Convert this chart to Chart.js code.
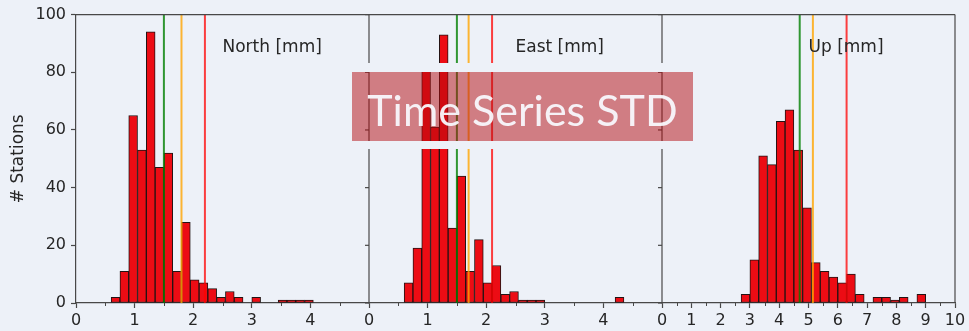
<!DOCTYPE html>
<html>
<head>
<meta charset="utf-8">
<script src="https://cdn.jsdelivr.net/npm/chart.js@4.4.1/dist/chart.umd.min.js"></script>
<style>
  html, body { margin: 0; background: #edf1f8; }
  canvas { display: block; }
</style>
</head>
<body>
<canvas id="grafico" width="969" height="331"></canvas>
<script>
// left edges of the histogram bins and station counts, one set per component
const northEdges = [0.6, 0.75, 0.9, 1.05, 1.2, 1.35, 1.5, 1.65, 1.8, 1.95, 2.1, 2.25, 2.4, 2.55, 2.7, 2.85, 3.0, 3.15, 3.3, 3.45, 3.6, 3.75, 3.9];
const northCounts = [2, 11, 65, 53, 94, 47, 52, 11, 28, 8, 7, 5, 2, 4, 2, 0, 2, 0, 0, 1, 1, 1, 1];
const eastEdges = [0.6, 0.75, 0.9, 1.05, 1.2, 1.35, 1.5, 1.65, 1.8, 1.95, 2.1, 2.25, 2.4, 2.55, 2.7, 2.85, 3.0, 3.15, 3.3, 3.45, 3.6, 3.75, 3.9, 4.05, 4.2];
const eastCounts = [7, 19, 82, 61, 93, 26, 44, 11, 22, 7, 13, 3, 4, 1, 1, 1, 0, 0, 0, 0, 0, 0, 0, 0, 2];
const upEdges = [2.7, 3.0, 3.3, 3.6, 3.9, 4.2, 4.5, 4.8, 5.1, 5.4, 5.7, 6.0, 6.3, 6.6, 6.9, 7.2, 7.5, 7.8, 8.1, 8.4, 8.7];
const upCounts = [3, 15, 51, 48, 63, 67, 53, 33, 14, 11, 9, 7, 10, 3, 0, 2, 2, 1, 2, 0, 3];
const binWidths = [0.15, 0.15, 0.3];

// reference lines (green, orange, red) per component
const northLines = [1.5, 1.8, 2.2];
const eastLines = [1.5, 1.7, 2.1];
const upLines = [4.7, 5.15, 6.3];
const lineColors = ['rgba(0,128,0,0.8)', 'rgba(255,165,0,0.8)', 'rgba(255,0,0,0.75)'];

const panelTitles = ['North [mm]', 'East [mm]', 'Up [mm]'];
const xMax = [5, 5, 10];
const titulo = 'Time Series STD';

const fondo = '#edf1f8';
const ejeColor = '#484848';
const textoColor = '#262626';
const fuente = 'DejaVu Sans';

const edges = [northEdges, eastEdges, upEdges];
const counts = [northCounts, eastCounts, upCounts];
const lines = [northLines, eastLines, upLines];
const ids = ['xN', 'xE', 'xU'];

function xScale(k) {
  return {
    type: 'linear',
    axis: 'x',
    position: 'bottom',
    stack: 'paneles',
    min: 0,
    max: xMax[k],
    offset: false,
    afterBuildTicks: (s) => {
      if (k < 2) s.ticks = s.ticks.filter(t => t.value < 5);
    },
    afterFit: (s) => { s.height = 28; },
    ticks: {
      stepSize: 1,
      autoSkip: false,
      maxRotation: 0,
      padding: 3,
      color: textoColor,
      font: { family: fuente, size: 16 },
    },
    grid: { offset: false, drawOnChartArea: false, drawTicks: true, tickLength: 5, tickColor: ejeColor, tickWidth: 1.2 },
    border: { display: true, color: ejeColor, width: 1.2 },
  };
}

// ancho de barra = ancho del bin en pixeles de su propia escala
function anchoBin(k) {
  return (c) => {
    const s = c.chart.scales[ids[k]];
    return s.getPixelForValue(binWidths[k]) - s.getPixelForValue(0);
  };
}

const panelPlugin = {
  id: 'paneles',
  beforeDraw(chart) {
    const ctx = chart.ctx;
    ctx.save();
    ctx.fillStyle = fondo;
    ctx.fillRect(0, 0, chart.width, chart.height);
    ctx.restore();
  },
  afterDatasetsDraw(chart) {
    const { ctx, chartArea: a } = chart;
    const y = chart.scales.y;
    ctx.save();
    ids.forEach((id, k) => {
      const s = chart.scales[id];
      // lineas verticales
      lines[k].forEach((v, j) => {
        const px = s.getPixelForValue(v);
        ctx.strokeStyle = lineColors[j];
        ctx.lineWidth = 2;
        ctx.beginPath();
        ctx.moveTo(px, a.top);
        ctx.lineTo(px, a.bottom);
        ctx.stroke();
      });
      // ticks menores
      ctx.strokeStyle = ejeColor;
      ctx.lineWidth = 1;
      for (let v = 0.5; v < xMax[k]; v += 1) {
        const px = Math.round(s.getPixelForValue(v)) + 0.5;
        ctx.beginPath();
        ctx.moveTo(px, a.bottom);
        ctx.lineTo(px, a.bottom + 3);
        ctx.stroke();
      }
      // borde derecho de cada panel
      ctx.lineWidth = 1.2;
      ctx.beginPath();
      ctx.moveTo(s.right, a.top);
      ctx.lineTo(s.right, a.bottom);
      ctx.stroke();
      // ticks del eje y en los paneles 2 y 3
      if (k > 0) {
        y.ticks.forEach(t => {
          const py = y.getPixelForValue(t.value);
          ctx.beginPath();
          ctx.moveTo(s.left, py);
          ctx.lineTo(s.left - 4, py);
          ctx.stroke();
        });
      }
      // titulo del panel
      ctx.fillStyle = textoColor;
      ctx.font = '17px "' + fuente + '"';
      ctx.textAlign = 'left';
      ctx.textBaseline = 'middle';
      ctx.fillText(panelTitles[k], s.left + (s.right - s.left) * 0.5, 48);
    });
    // borde superior
    ctx.strokeStyle = ejeColor;
    ctx.lineWidth = 1.2;
    ctx.beginPath();
    ctx.moveTo(a.left, a.top);
    ctx.lineTo(a.right, a.top);
    ctx.stroke();
    ctx.restore();
  },
  afterDraw(chart) {
    const ctx = chart.ctx;
    const box = { x: 352, y: 72, w: 341, h: 69 };
    ctx.save();
    // margen del cuadro en color de fondo
    ctx.fillStyle = fondo;
    ctx.fillRect(box.x, box.y - 9, box.w, 9);
    ctx.fillRect(box.x, box.y + box.h, box.w, 8);
    ctx.fillStyle = 'rgba(180,10,14,0.5)';
    ctx.fillRect(box.x, box.y, box.w, box.h);
    ctx.fillStyle = 'rgba(248,248,252,0.95)';
    ctx.font = '43px Lato';
    ctx.textAlign = 'center';
    ctx.textBaseline = 'alphabetic';
    ctx.fillText(titulo, box.x + box.w / 2, 126);
    ctx.restore();
  }
};

const datasets = ids.map((id, k) => ({
  label: panelTitles[k],
  xAxisID: id,
  yAxisID: 'y',
  data: edges[k].map((e, i) => ({ x: e + binWidths[k] / 2, y: counts[k][i] })),
  backgroundColor: '#ec0c14',
  borderColor: '#221414',
  borderWidth: 1,
  borderSkipped: false,
  grouped: false,
  barThickness: anchoBin(k),
}));

const scales = { y: {
  type: 'linear',
  position: 'left',
  min: 0,
  max: 100,
  afterFit: (s) => { s.width = 76; },
  ticks: { stepSize: 20, padding: 5, color: textoColor, font: { family: fuente, size: 16 } },
  grid: { drawOnChartArea: false, drawTicks: true, tickLength: 5, tickColor: ejeColor, tickWidth: 1.2 },
  border: { display: true, color: ejeColor, width: 1.2 },
  title: { display: true, text: '# Stations', color: textoColor, font: { family: fuente, size: 17 }, padding: { top: 8, bottom: 0 } },
} };
ids.forEach((id, k) => { scales[id] = xScale(k); });

const grafico = new Chart(document.getElementById('grafico'), {
  type: 'bar',
  data: { datasets },
  options: {
    responsive: false,
    animation: false,
    layout: { padding: { top: 12, right: 14, left: 0, bottom: 0 } },
    plugins: { legend: { display: false }, tooltip: { enabled: false } },
    scales,
  },
  plugins: [panelPlugin],
});
</script>
</body>
</html>
